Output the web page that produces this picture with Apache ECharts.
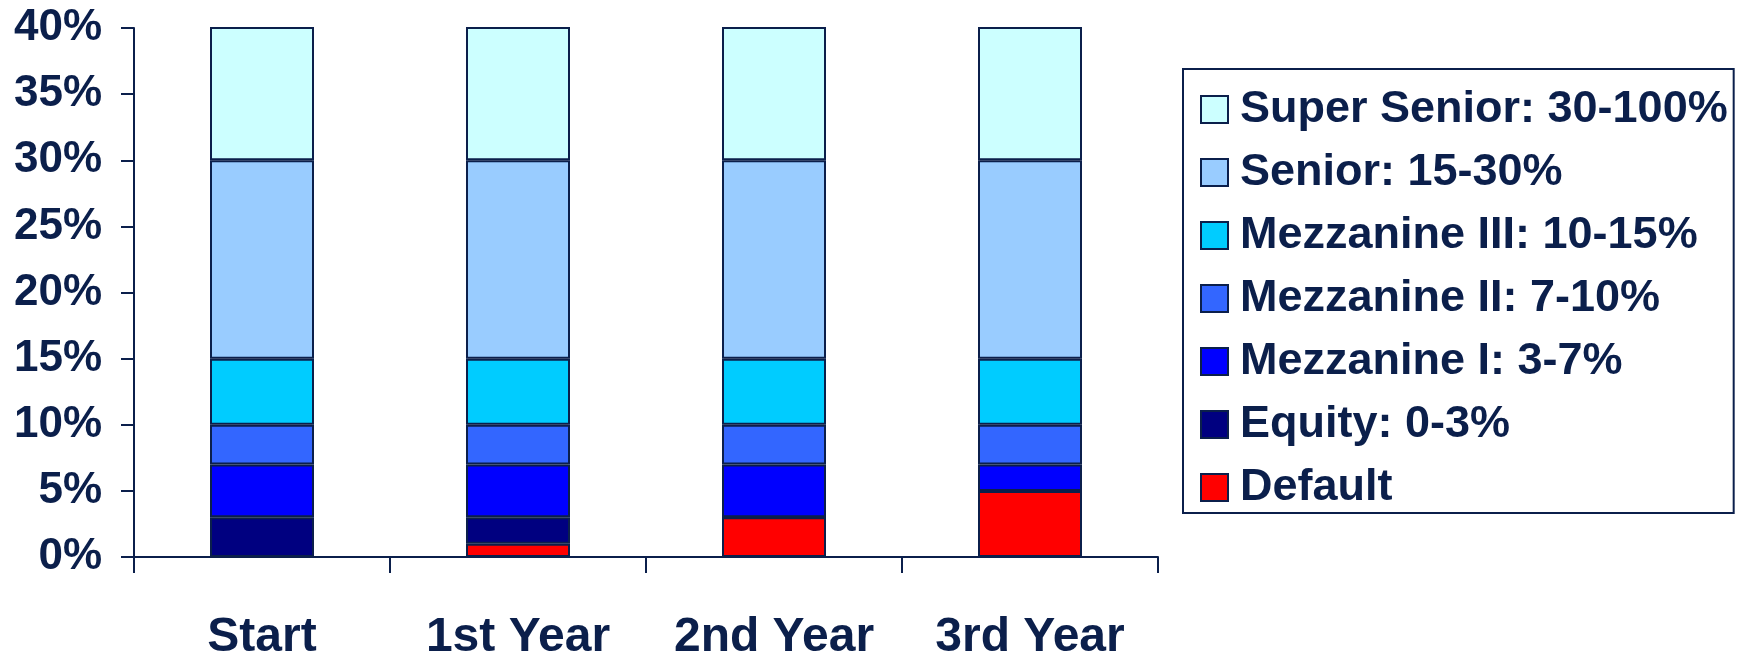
<!DOCTYPE html>
<html>
<head>
<meta charset="utf-8">
<script src="https://cdn.jsdelivr.net/npm/echarts@6/dist/echarts.min.js"></script>
<style>
    html, body { margin: 0; padding: 0; background: #fff; }
    #chart { width: 1753px; height: 651px; }
</style>
</head>
<body>
<div id="chart"></div>
<script>
// categories and tranche slices (percentage points, stacked bottom -> top)
const categories = ['Start', '1st Year', '2nd Year', '3rd Year']
const defaultLoss = [0, 1, 3, 5]
const equity = [3, 2, 0, 0]
const mezzI = [4, 4, 4, 2]
const mezzII = [3, 3, 3, 3]
const mezzIII = [5, 5, 5, 5]
const senior = [15, 15, 15, 15]
const superSenior = [70, 70, 70, 70]
const yTicks = [0, 5, 10, 15, 20, 25, 30, 35, 40]

const NAVY = '#0b1f4b'
const FONT = '"Liberation Sans", Arial, sans-serif'

const tranches = [
    { name: 'Default', data: defaultLoss, color: '#FF0000' },
    { name: 'Equity: 0-3%', data: equity, color: '#000080' },
    { name: 'Mezzanine I: 3-7%', data: mezzI, color: '#0000FF' },
    { name: 'Mezzanine II: 7-10%', data: mezzII, color: '#3366FF' },
    { name: 'Mezzanine III: 10-15%', data: mezzIII, color: '#00CCFF' },
    { name: 'Senior: 15-30%', data: senior, color: '#99CCFF' },
    { name: 'Super Senior: 30-100%', data: superSenior, color: '#CCFFFF' },
]

const chart = echarts.init(document.getElementById('chart'))

const series = tranches.map((t) => {
    return {
        name: t.name,
        type: 'bar',
        stack: 'cdo',
        barWidth: 104,
        data: t.data,
        itemStyle: {
            color: t.color,
            borderColor: NAVY,
            borderWidth: 2,
        },
    }
})

chart.setOption({
    animation: false,
    textStyle: { fontFamily: FONT, color: NAVY },
    grid: {
        left: 134,
        right: 595,
        top: 28,
        bottom: 94,
        containLabel: false,
        outerBoundsMode: 'none',
    },
    legend: {
        orient: 'vertical',
        left: 1183,
        top: 69,
        // top to bottom as in the picture
        data: tranches.map((t) => t.name).reverse(),
        itemWidth: 27,
        itemHeight: 27,
        itemGap: 18,
        padding: [18, 6, 3, 17],
        borderColor: NAVY,
        borderWidth: 2,
        icon: 'rect',
        selectedMode: false,
        textStyle: {
            fontFamily: FONT,
            fontWeight: 'bold',
            fontSize: 45,
            lineHeight: 44,
            color: NAVY,
            padding: [0, 0, 0, 7],
        },
    },
    xAxis: {
        type: 'category',
        data: categories,
        boundaryGap: true,
        axisLine: { lineStyle: { color: NAVY, width: 2 } },
        axisTick: { show: true, interval: 0, length: 16, lineStyle: { color: NAVY, width: 2 } },
        axisLabel: {
            interval: 0,
            margin: 57,
            fontFamily: FONT,
            fontWeight: 'bold',
            fontSize: 48,
            color: NAVY,
        },
    },
    yAxis: {
        type: 'value',
        min: yTicks[0],
        max: yTicks[yTicks.length - 1],
        interval: 5,
        splitLine: { show: false },
        axisLine: { show: true, lineStyle: { color: NAVY, width: 2 } },
        axisTick: { show: true, length: 13, lineStyle: { color: NAVY, width: 2 } },
        axisLabel: {
            margin: 32,
            fontFamily: FONT,
            fontWeight: 'bold',
            fontSize: 44,
            color: NAVY,
            formatter: (v) => v + '%',
        },
    },
    series: series,
})
</script>
</body>
</html>
